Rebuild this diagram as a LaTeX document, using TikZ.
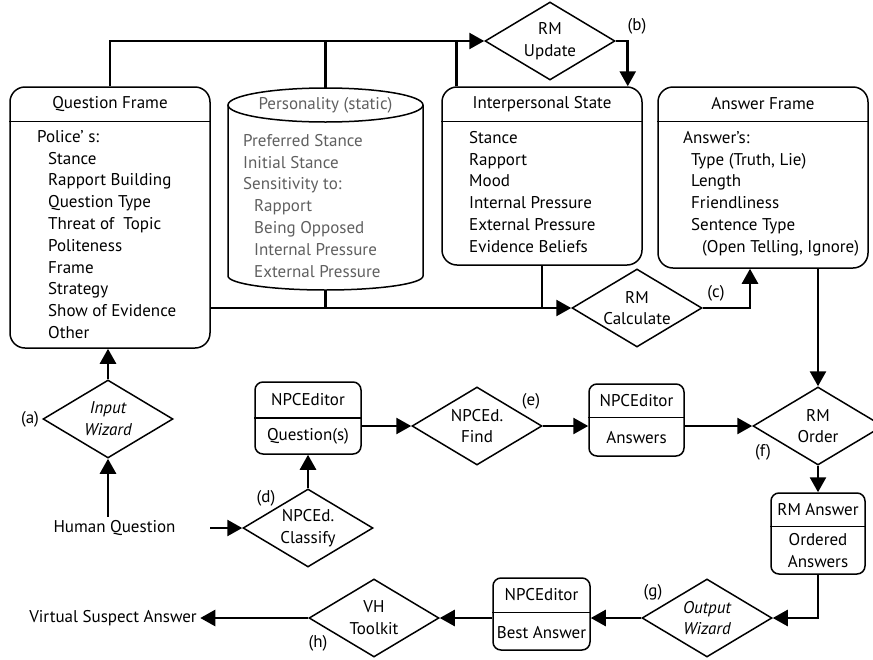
\documentclass[tikz,border=0pt]{standalone}
\usepackage{fontspec}
\setmainfont{PT Sans}
\usetikzlibrary{shapes.geometric, arrows.meta, calc}
\definecolor{persgray}{RGB}{95,95,95}

\begin{document}
\begin{tikzpicture}[x=1pt, y=-1pt,
    every node/.style={font=\fontsize{17}{21.8}\selectfont},
    frame/.style={draw, line width=1.5pt, rounded corners=15pt},
    smallbox/.style={draw, line width=1.5pt, rounded corners=8pt},
    decide/.style={draw, line width=1.5pt, shape=diamond, inner sep=-8pt, aspect=1.67,
        minimum width=130pt, minimum height=78pt, align=center},
    listing/.style={anchor=north west, align=left, inner sep=0pt},
    wire/.style={line width=2.6pt},
    flow/.style={wire, -{Triangle[length=15pt, width=16pt]}}
]
    \useasboundingbox (0,0) rectangle (873,659);

    % frames
    \node[frame, minimum width=200pt, minimum height=261pt] (qf) at (110,217.5) {};
    \draw[line width=1.5pt] ([yshift=-35pt]qf.north west) -- ([yshift=-35pt]qf.north east);
    \node (qft) at ([yshift=-17.5pt]qf.north) {Question Frame};
    \node[listing] (qfl) at (37,130) {Police’ s:\\
        \hspace*{11pt}Stance\\ \hspace*{11pt}Rapport Building\\ \hspace*{11pt}Question Type\\
        \hspace*{11pt}Threat of\ \ Topic\\ \hspace*{11pt}Politeness\\ \hspace*{11pt}Frame\\
        \hspace*{11pt}Strategy\\ \hspace*{11pt}Show of Evidence\\ \hspace*{11pt}Other};

    \draw[line width=1.5pt] (228,105) -- (228,276)
        arc[start angle=180, end angle=360, x radius=97.5pt, y radius=14pt] -- (423,105);
    \draw[line width=1.5pt] (325.5,105) ellipse [x radius=97.5pt, y radius=17pt];
    \coordinate (pertop) at (325.5,88);
    \coordinate (perbot) at (325.5,290);
    \node[text=persgray] (pert) at (325.5,105) {Personality (static)};
    \node[listing, text=persgray] (perl) at (243,134) {Preferred Stance\\ Initial Stance\\
        Sensitivity to:\\ \hspace*{11pt}Rapport\\ \hspace*{11pt}Being Opposed\\
        \hspace*{11pt}Internal Pressure\\ \hspace*{11pt}External Pressure};

    \node[frame, minimum width=200pt, minimum height=178pt] (ips) at (542,176) {};
    \draw[line width=1.5pt] ([yshift=-35pt]ips.north west) -- ([yshift=-35pt]ips.north east);
    \node (ipst) at ([yshift=-17.5pt]ips.north) {Interpersonal State};
    \node[listing] (ipsl) at (469,131) {Stance\\ Rapport\\ Mood\\ Internal Pressure\\
        External Pressure\\ Evidence Beliefs};

    \node[frame, minimum width=210pt, minimum height=181pt] (af) at (763,177.5) {};
    \draw[line width=1.5pt] ([yshift=-35pt]af.north west) -- ([yshift=-35pt]af.north east);
    \node (aft) at ([yshift=-17.5pt]af.north) {Answer Frame};
    \node[listing] (afl) at (683,131) {Answer’s:\\ \hspace*{8pt}Type (Truth, Lie)\\
        \hspace*{8pt}Length\\ \hspace*{8pt}Friendliness\\ \hspace*{8pt}Sentence Type\\
        \hspace*{19pt}(Open Telling, Ignore)};

    % small boxes
    \node[smallbox, minimum width=106pt, minimum height=72pt] (nq) at (308,418) {};
    \draw[line width=1.5pt] (nq.west) -- (nq.east);
    \node (nqt) at ([yshift=-18pt]nq.north) {NPCEditor};
    \node (nqb) at ([yshift=18pt]nq.south) {Question(s)};

    \node[smallbox, minimum width=95pt, minimum height=72pt] (na) at (636.5,420) {};
    \draw[line width=1.5pt] ([yshift=-34pt]na.north west) -- ([yshift=-34pt]na.north east);
    \node (nat) at ([yshift=-17pt]na.north) {NPCEditor};
    \node (nab) at ([yshift=19pt]na.south) {Answers};

    \node[smallbox, minimum width=97pt, minimum height=72pt] (bae) at (541.5,614) {};
    \draw[line width=1.5pt] ([yshift=-35pt]bae.north west) -- ([yshift=-35pt]bae.north east);
    \node (baet) at ([yshift=-17.5pt]bae.north) {NPCEditor};
    \node (baeb) at ([yshift=18pt]bae.south) {Best Answer};

    \node[smallbox, minimum width=94pt, minimum height=81pt] (rma) at (818,533.5) {};
    \draw[line width=1.5pt] ([yshift=-34pt]rma.north west) -- ([yshift=-34pt]rma.north east);
    \node (rmat) at ([yshift=-17pt]rma.north) {RM Answer};
    \node[align=center, inner sep=0pt] (rmab) at ([yshift=24pt]rma.south) {Ordered\\ Answers};

    % decisions
    \node[decide] (rmu) at (550,41) {RM\\ Update};
    \node[decide] (rmc) at (637,308) {RM\\ Calculate};
    \node[decide] (iwz) at (108,419) {\itshape Input\\ \itshape Wizard};
    \node[decide] (ncl) at (308,528) {NPCEd.\\ Classify};
    \node[decide] (nfd) at (477,426) {NPCEd.\\ Find};
    \node[decide] (rmo) at (818,426) {RM\\ Order};
    \node[decide] (owz) at (707,618) {\itshape Output\\ \itshape Wizard};
    \node[decide] (vht) at (374,618) {VH\\ Toolkit};

    % plain texts
    \node (hq) at (114.5,528) {Human Question};
    \node (vsa) at (113,618) {Virtual Suspect Answer};
    \coordinate (hqout) at (210,528);

    % step labels
    \node (la) at (30,419) {(a)};
    \node (lb) at (637,26) {(b)};
    \node (lc) at (716,293) {(c)};
    \node (ld) at (266,498) {(d)};
    \node (le) at (531,401) {(e)};
    \node (lf) at (763,452) {(f)};
    \node (lg) at (653,592) {(g)};
    \node (lh) at (318,643) {(h)};

    % connectors
    \draw[flow] (qf.north) |- (rmu.west);
    \draw[wire] (pertop) -- (pertop |- rmu.west);
    \draw[wire] ([xshift=15pt]ips.north west) -- ([xshift=15pt]ips.north west |- rmu.west);
    \draw[flow] (rmu.east) -| ([xshift=-15pt]ips.north east);
    \draw[flow] (qf.east |- rmc.west) -- (rmc.west);
    \draw[wire] (perbot) -- (perbot |- rmc.west);
    \draw[wire] (ips.south) -- (ips.south |- rmc.west);
    \draw[flow] (rmc.east) -| ([xshift=-13pt]af.south);
    \draw[flow] (af.south -| rmo.north) -- (rmo.north);
    \draw[flow] (rmo.south) -- (rma.north);
    \draw[flow] (rma.south) |- (owz.east);
    \draw[flow] (owz.west) -- (owz.west -| bae.east);
    \draw[flow] (bae.west |- vht.east) -- (vht.east);
    \draw[flow] (vht.west) -- (vsa.east);
    \draw[flow] (iwz.south |- hq.north) -- (iwz.south);
    \draw[flow] (iwz.north) -- (iwz.north |- qf.south);
    \draw[flow] (hqout) -- (ncl.west);
    \draw[flow] (ncl.north) -- (nq.south);
    \draw[flow] (nq.east |- nfd.west) -- (nfd.west);
    \draw[flow] (nfd.east) -- (nfd.east -| na.west);
    \draw[flow] (na.east |- rmo.west) -- (rmo.west);
\end{tikzpicture}
\end{document}
